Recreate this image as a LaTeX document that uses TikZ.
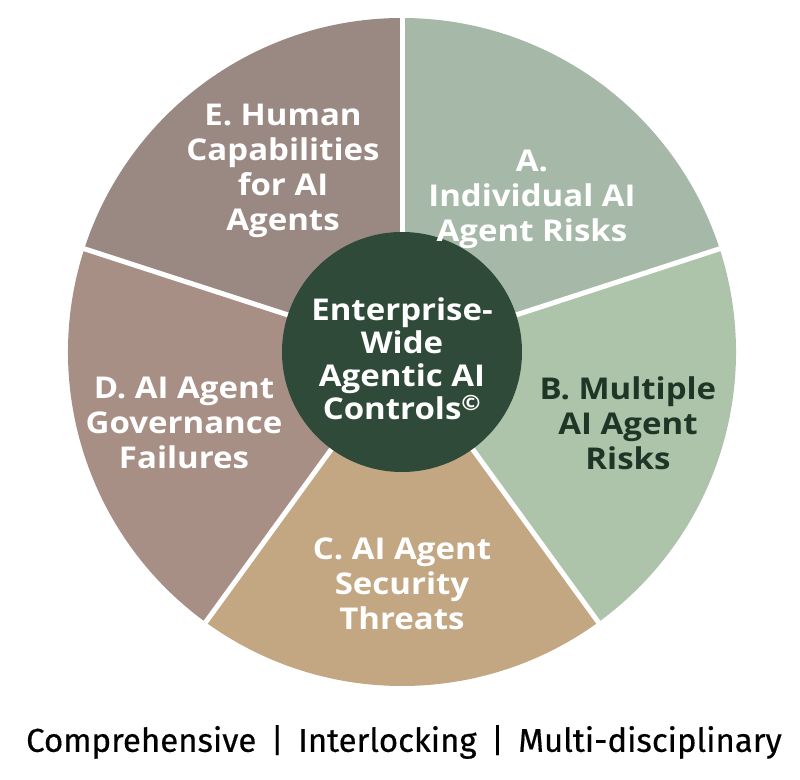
\documentclass[tikz,border=0pt]{standalone}
\usepackage{fontspec}
\setmainfont{Open Sans}[FakeStretch=1.1]
\newfontfamily\tagfont{Fira Sans}[FakeBold=0.4]
\begin{document}
\begin{tikzpicture}[x=1pt,y=1pt,
  seglabel/.style={font=\bfseries\fontsize{30}{35}\selectfont, align=center, text=white, inner sep=0pt},
  spoke/.style={white, line width=5pt}]
\definecolor{cA}{HTML}{A6B9A8}
\definecolor{cB}{HTML}{ADC4AB}
\definecolor{cC}{HTML}{C3A682}
\definecolor{cD}{HTML}{A78F86}
\definecolor{cE}{HTML}{9A8983}
\definecolor{cCore}{HTML}{2F4A38}
\definecolor{cBtext}{HTML}{1F3526}
\useasboundingbox (0,0) rectangle (800,779);
\fill[white] (0,0) rectangle (800,779);
\coordinate (c) at (402,427);
\fill[cA] (c) -- ++(18:334pt) arc[start angle=18,end angle=90,radius=334pt] -- cycle;
\fill[cB] (c) -- ++(-54:334pt) arc[start angle=-54,end angle=18,radius=334pt] -- cycle;
\fill[cC] (c) -- ++(-126:334pt) arc[start angle=-126,end angle=-54,radius=334pt] -- cycle;
\fill[cD] (c) -- ++(162:334pt) arc[start angle=162,end angle=234,radius=334pt] -- cycle;
\fill[cE] (c) -- ++(90:334pt) arc[start angle=90,end angle=162,radius=334pt] -- cycle;
\foreach \a in {90,18,-54,-126,162} \draw[spoke] (c) -- ++(\a:336pt);
\node[circle, fill=cCore, minimum size=240pt, inner sep=0pt] (core) at (c) {};
\node[seglabel, font=\bfseries\fontsize{30}{33}\selectfont] (coretext) at (402,420) {Enterprise-\\Wide\\Agentic AI\\Controls\textsuperscript{©}};
\node[seglabel] (A) at (532,580) {A.\\Individual AI\\Agent Risks};
\node[seglabel, text=cBtext] (B) at (628,356) {B. Multiple\\AI Agent\\Risks};
\node[seglabel] (C) at (402,195) {C. AI Agent\\Security\\Threats};
\node[seglabel] (D) at (184,356) {D. AI Agent\\Governance\\Failures};
\node[seglabel] (E) at (283,608) {E. Human\\Capabilities\\for AI\\Agents};
\node[font=\tagfont\fontsize{33}{38}\selectfont, text=black, inner sep=0pt] (tag) at (404,37) {Comprehensive \,|\, Interlocking \,|\, Multi-disciplinary};
\end{tikzpicture}
\end{document}
